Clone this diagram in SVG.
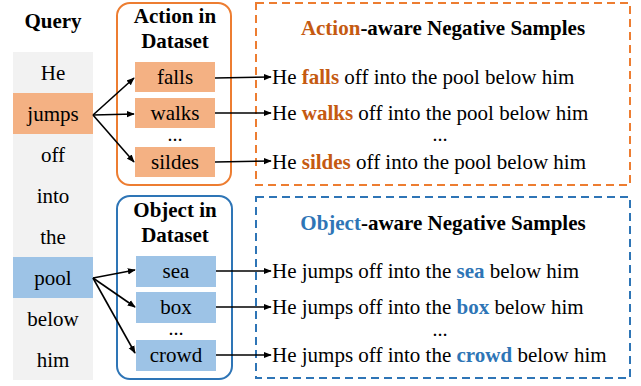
<svg xmlns="http://www.w3.org/2000/svg" width="641" height="386" viewBox="0 0 641 386">
<defs>
<style>
.b{font-weight:bold}
.c{text-anchor:middle}
.d{font-weight:bold;text-anchor:middle}
.o{fill:#C55A11;font-weight:bold}
.u{fill:#2E75B6;font-weight:bold}
.ln{stroke:#000;stroke-width:1.6;fill:none;marker-end:url(#ah)}
.aw{fill:#F4B183}
.ow{fill:#9DC3E6}
</style>
<marker id="ah" viewBox="0 0 10 10" refX="9" refY="5" markerWidth="5" markerHeight="5" orient="auto" markerUnits="strokeWidth">
<path d="M0,1 L10,5 L0,9 z" fill="#000"/>
</marker>
</defs>
<rect width="641" height="386" fill="#fff"/>
<g id="query">
<rect x="13" y="52" width="80" height="328" fill="#F2F2F2"/>
<rect x="13" y="93" width="80" height="41" fill="#F4B183"/>
<rect x="13" y="257" width="80" height="41" fill="#9DC3E6"/>
<text class="b c" x="53" y="28" font-family="Liberation Serif" font-size="21" style="font-family:'Liberation Serif',serif">Query</text>
<text class="c" x="53" y="80" font-family="Liberation Serif" font-size="21" style="font-family:'Liberation Serif',serif">He</text>
<text class="c" x="53" y="121" font-family="Liberation Serif" font-size="21" style="font-family:'Liberation Serif',serif">jumps</text>
<text class="c" x="53" y="162" font-family="Liberation Serif" font-size="21" style="font-family:'Liberation Serif',serif">off</text>
<text class="c" x="53" y="203" font-family="Liberation Serif" font-size="21" style="font-family:'Liberation Serif',serif">into</text>
<text class="c" x="53" y="244" font-family="Liberation Serif" font-size="21" style="font-family:'Liberation Serif',serif">the</text>
<text class="c" x="53" y="285" font-family="Liberation Serif" font-size="21" style="font-family:'Liberation Serif',serif">pool</text>
<text class="c" x="53" y="326" font-family="Liberation Serif" font-size="21" style="font-family:'Liberation Serif',serif">below</text>
<text class="c" x="53" y="367" font-family="Liberation Serif" font-size="21" style="font-family:'Liberation Serif',serif">him</text>
</g>
<g id="action-dataset">
<rect x="117" y="3" width="114" height="182" rx="13" fill="none" stroke="#ED7D31" stroke-width="2"/>
<text class="b c" x="175" y="23" font-family="Liberation Serif" font-size="21" style="font-family:'Liberation Serif',serif">Action in</text>
<text class="b c" x="175" y="48" font-family="Liberation Serif" font-size="21" style="font-family:'Liberation Serif',serif">Dataset</text>
<rect class="aw" x="135" y="62" width="80" height="30"/>
<rect class="aw" x="135" y="98" width="80" height="30"/>
<rect class="aw" x="135" y="147" width="80" height="30"/>
<text class="c" x="175" y="84" font-family="Liberation Serif" font-size="21" style="font-family:'Liberation Serif',serif">falls</text>
<text class="c" x="175" y="120" font-family="Liberation Serif" font-size="21" style="font-family:'Liberation Serif',serif">walks</text>
<text class="d" x="175" y="141" font-family="Liberation Serif" font-size="15" style="font-family:'Liberation Serif',serif">…</text>
<text class="c" x="175" y="169" font-family="Liberation Serif" font-size="21" style="font-family:'Liberation Serif',serif">sildes</text>
</g>
<g id="object-dataset">
<rect x="117" y="196" width="115" height="183" rx="13" fill="none" stroke="#2E75B6" stroke-width="2"/>
<text class="b c" x="175" y="217" font-family="Liberation Serif" font-size="21" style="font-family:'Liberation Serif',serif">Object in</text>
<text class="b c" x="175" y="242" font-family="Liberation Serif" font-size="21" style="font-family:'Liberation Serif',serif">Dataset</text>
<rect class="ow" x="136" y="256" width="80" height="31"/>
<rect class="ow" x="136" y="292" width="80" height="31"/>
<rect class="ow" x="136" y="340" width="80" height="31"/>
<text class="c" x="176" y="278" font-family="Liberation Serif" font-size="21" style="font-family:'Liberation Serif',serif">sea</text>
<text class="c" x="176" y="314" font-family="Liberation Serif" font-size="21" style="font-family:'Liberation Serif',serif">box</text>
<text class="d" x="176" y="335" font-family="Liberation Serif" font-size="15" style="font-family:'Liberation Serif',serif">…</text>
<text class="c" x="176" y="362" font-family="Liberation Serif" font-size="21" style="font-family:'Liberation Serif',serif">crowd</text>
</g>
<g id="action-samples">
<rect x="256" y="3" width="374" height="182" fill="none" stroke="#ED7D31" stroke-width="2" stroke-dasharray="8,5"/>
<text class="b c" x="443" y="35" font-family="Liberation Serif" font-size="21" style="font-family:'Liberation Serif',serif"><tspan class="o">Action</tspan>-aware Negative Samples</text>
<text x="272" y="84" font-family="Liberation Serif" font-size="21" style="font-family:'Liberation Serif',serif">He <tspan class="o">falls</tspan> off into the pool below him</text>
<text x="272" y="120" font-family="Liberation Serif" font-size="21" style="font-family:'Liberation Serif',serif">He <tspan class="o">walks</tspan> off into the pool below him</text>
<text class="d" x="440" y="141" font-family="Liberation Serif" font-size="15" style="font-family:'Liberation Serif',serif">…</text>
<text x="272" y="169" font-family="Liberation Serif" font-size="21" style="font-family:'Liberation Serif',serif">He <tspan class="o">sildes</tspan> off into the pool below him</text>
</g>
<g id="object-samples">
<rect x="256" y="197" width="374" height="181" fill="none" stroke="#2E75B6" stroke-width="2" stroke-dasharray="8,5"/>
<text class="b c" x="443" y="230" font-family="Liberation Serif" font-size="21" style="font-family:'Liberation Serif',serif"><tspan class="u">Object</tspan>-aware Negative Samples</text>
<text x="272" y="278" font-family="Liberation Serif" font-size="21" style="font-family:'Liberation Serif',serif">He jumps off into the <tspan class="u">sea</tspan> below him</text>
<text x="272" y="314" font-family="Liberation Serif" font-size="21" style="font-family:'Liberation Serif',serif">He jumps off into the <tspan class="u">box</tspan> below him</text>
<text class="d" x="440" y="336" font-family="Liberation Serif" font-size="15" style="font-family:'Liberation Serif',serif">…</text>
<text x="272" y="362" font-family="Liberation Serif" font-size="21" style="font-family:'Liberation Serif',serif">He jumps off into the <tspan class="u">crowd</tspan> below him</text>
</g>
<g id="connectors">
<path class="ln" d="M93,115 L134,78"/>
<path class="ln" d="M93,115 L134,114"/>
<path class="ln" d="M93,115 L134,162"/>
<path class="ln" d="M93,278 L135,270"/>
<path class="ln" d="M93,278 L135,307"/>
<path class="ln" d="M93,278 L135,353"/>
<path class="ln" d="M215,78 L271,77"/>
<path class="ln" d="M215,113 L271,113"/>
<path class="ln" d="M215,162 L271,161"/>
<path class="ln" d="M216,271 L271,271"/>
<path class="ln" d="M216,307 L271,307"/>
<path class="ln" d="M216,355 L271,355"/>
</g>
</svg>
